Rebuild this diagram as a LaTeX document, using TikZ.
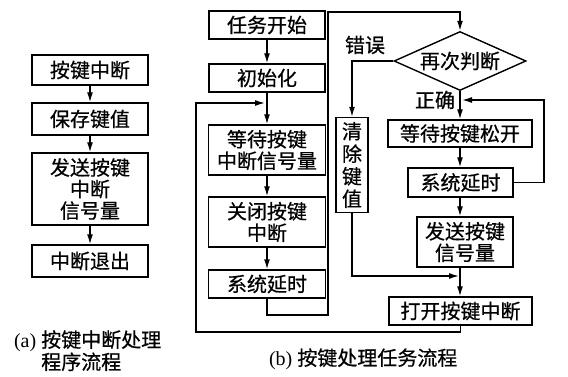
\documentclass[tikz,border=0pt]{standalone}
\usepackage{fontspec}
\setmainfont{Liberation Serif}
\newfontfamily\cjk[FakeBold=0.6]{Noto Sans CJK SC}
\usetikzlibrary{shapes.geometric,arrows.meta}
\begin{document}
\begin{tikzpicture}[x=1pt,y=-1pt,line width=1.4pt,
    box/.style={draw, inner sep=1pt, align=center, font=\cjk\fontsize{20}{21.5}\selectfont},
    arr/.style={-{Latex[length=10pt,width=6pt]}},
    lbl/.style={font=\cjk\fontsize{20}{21.5}\selectfont}]
    \useasboundingbox (0,0) rectangle (568,377);
    % (a) interrupt routine
    \node[box, minimum width=116pt, minimum height=30pt] (a1) at (90,70) {按键中断};
    \node[box, minimum width=116pt, minimum height=32pt] (a2) at (90,119) {保存键值};
    \node[box, minimum width=116pt, minimum height=72pt] (a3) at (90,189) {发送按键\\中断\\信号量};
    \node[box, minimum width=116pt, minimum height=32pt] (a4) at (90,261) {中断退出};
    \draw[arr] (a1) -- (a2);
    \draw[arr] (a2) -- (a3);
    \draw[arr] (a3) -- (a4);
    \node[lbl, anchor=west, align=left, font=\fontsize{20}{21}\selectfont] (capa) at (10,352)
        {(a) {\cjk 按键中断处理}\\\phantom{(a) }{\cjk 程序流程}};
    % (b) task, left column
    \node[box, minimum width=116pt, minimum height=28pt] (b1) at (267,25) {任务开始};
    \node[box, minimum width=116pt, minimum height=28pt] (b2) at (267,78) {初始化};
    \node[box, minimum width=117pt, minimum height=50pt] (b3) at (267,150) {等待按键\\中断信号量};
    \node[box, minimum width=117pt, minimum height=50pt] (b4) at (267,222) {关闭按键\\中断};
    \node[box, minimum width=117pt, minimum height=28pt] (b5) at (267,284) {系统延时};
    \draw[arr] (b1) -- (b2);
    \draw[arr] (b2) -- (b3);
    \draw[arr] (b3) -- (b4);
    \draw[arr] (b4) -- (b5);
    % (b) task, right part
    \node[box, diamond, shape aspect=2.2, inner sep=0pt, minimum width=132pt, minimum height=59pt] (d) at (460,61) {再次判断};
    \node[box, font=\cjk\fontsize{20}{22.5}\selectfont, minimum width=32pt, minimum height=95pt] (c) at (352,165) {清\\除\\键\\值};
    \node[box, minimum width=144pt, minimum height=27pt] (r1) at (460,133.5) {等待按键松开};
    \node[box, minimum width=105pt, minimum height=29pt] (r2) at (460.5,182.5) {系统延时};
    \node[box, minimum width=96pt, minimum height=50pt] (r3) at (465,242) {发送按键\\信号量};
    \node[box, minimum width=143pt, minimum height=28pt] (r4) at (460.5,311) {打开按键中断};
    \node[lbl] (err) at (365,45) {错误};
    \node[lbl] (ok) at (435,100) {正确};
    \coordinate (c1) at (328,315);
    \coordinate (c2) at (328,12);
    \coordinate (bl) at (196,332);
    \coordinate (m1) at (265,103);
    \coordinate (m2) at (459,276);
    \coordinate (c3) at (544,100);
    \coordinate (m3) at (462,100);
    \draw[arr] (b5.south) |- (c1) -- (c2) -| (d.north);
    \draw[arr] (d.west) -| (c.north);
    \draw[arr] (d.south) -- (r1.north -| d.south);
    \draw[arr] (r1.south -| d.south) -- (r2.north -| d.south);
    \draw[arr] (r2.south -| d.south) -- (r3.north -| d.south);
    \draw[arr] (r3.south -| d.south) -- (r4.north -| d.south);
    \draw[arr] (r2.east) -| (c3) -- (m3);
    \draw[arr] (c.south) |- (m2);
    \draw[arr] (r4.south) |- (bl) |- (m1);
    \node[lbl, anchor=west, font=\fontsize{20}{21}\selectfont] (capb) at (265,359) {(b) {\cjk 按键处理任务流程}};
\end{tikzpicture}
\end{document}
